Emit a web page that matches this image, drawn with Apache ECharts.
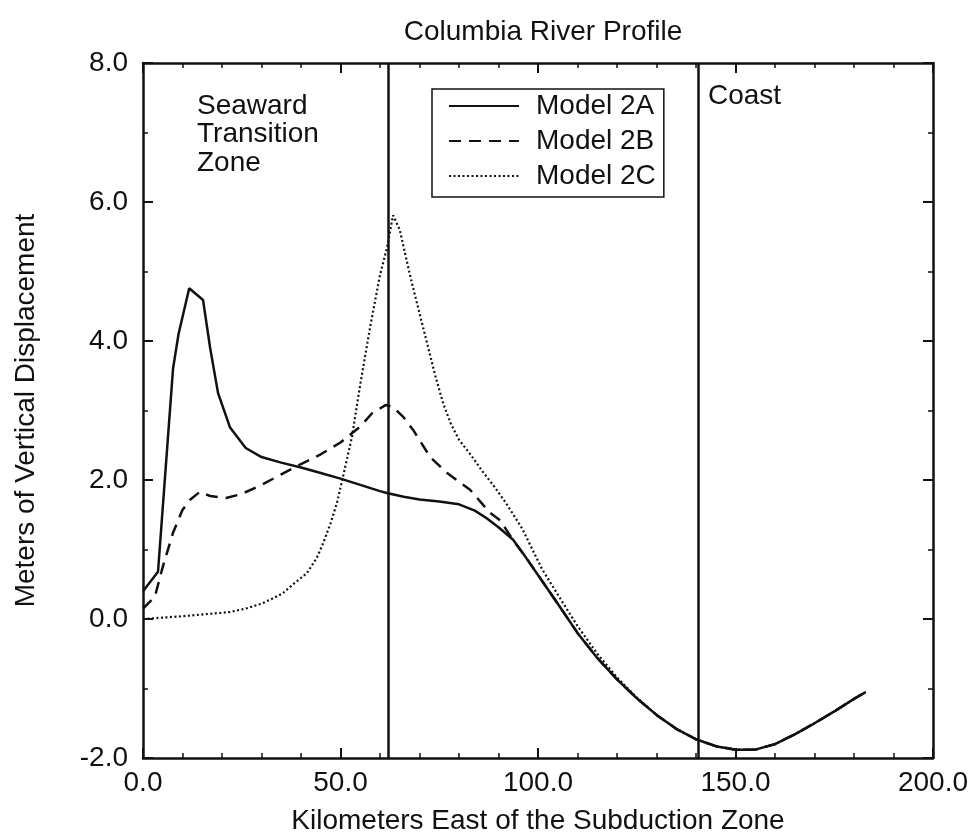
<!DOCTYPE html>
<html>
<head>
<meta charset="utf-8">
<script src="https://cdn.jsdelivr.net/npm/echarts@6/dist/echarts.min.js"></script>
<style>
  html, body { margin: 0; padding: 0; background: #fff; }
  #chart { width: 973px; height: 836px; }
</style>
</head>
<body>
<div id="chart"></div>
<script>
// Vertical displacement profiles (metres) along the Columbia River, km east of the subduction zone
const model2A_km = [0, 3.8, 7.6, 9, 11.7, 15.2, 17, 19, 22, 26, 30, 35, 40, 45, 50, 55, 60, 62, 66, 70, 75, 80, 84, 87, 90, 93.7, 97, 101, 105, 110, 115, 120, 125, 130, 135, 140, 145, 150, 155, 160, 165, 170, 175, 180, 183];
const model2A_m  = [0.40, 0.68, 3.6, 4.1, 4.76, 4.59, 3.9, 3.25, 2.76, 2.46, 2.33, 2.25, 2.18, 2.1, 2.02, 1.93, 1.84, 1.81, 1.76, 1.72, 1.69, 1.65, 1.56, 1.45, 1.32, 1.14, 0.88, 0.55, 0.22, -0.2, -0.56, -0.87, -1.14, -1.38, -1.58, -1.73, -1.83, -1.88, -1.88, -1.8, -1.66, -1.5, -1.33, -1.15, -1.05];

const model2B_km = [0, 3, 5, 7.6, 10, 12, 14.4, 17, 21, 25, 30, 35, 40, 45, 50, 55, 58, 61.5, 63.3, 66, 68.4, 72.7, 77, 82.8, 87.8, 90.4, 93.3, 97, 101, 105, 110, 115, 120, 125, 130, 135, 140, 145, 150, 155, 160, 165, 170, 175, 180, 183];
const model2B_m  = [0.15, 0.32, 0.75, 1.24, 1.57, 1.72, 1.83, 1.77, 1.74, 1.8, 1.93, 2.08, 2.23, 2.37, 2.54, 2.77, 2.96, 3.08, 3.05, 2.9, 2.72, 2.33, 2.1, 1.86, 1.53, 1.42, 1.17, 0.88, 0.55, 0.22, -0.2, -0.56, -0.87, -1.14, -1.38, -1.58, -1.73, -1.83, -1.88, -1.88, -1.8, -1.66, -1.5, -1.33, -1.15, -1.05];

const model2C_km = [0, 5, 10, 14, 18, 22, 26, 30, 33, 35.4, 38, 41.5, 44, 45.6, 47.5, 49.1, 50.6, 52.9, 54.9, 57.5, 60, 61.8, 63.3, 65, 66.3, 68, 70, 72, 74, 76, 78, 80, 83, 86, 89, 92, 96, 101, 106, 110, 115, 120, 125, 130, 135, 140, 145, 150, 155, 160, 165, 170, 175, 180, 183];
const model2C_m  = [0.0, 0.02, 0.04, 0.06, 0.08, 0.1, 0.15, 0.22, 0.3, 0.37, 0.5, 0.66, 0.88, 1.09, 1.38, 1.67, 2.04, 2.62, 3.34, 4.2, 4.95, 5.35, 5.81, 5.6, 5.27, 4.85, 4.4, 3.95, 3.5, 3.1, 2.8, 2.58, 2.36, 2.12, 1.9, 1.66, 1.3, 0.72, 0.26, -0.1, -0.5, -0.84, -1.13, -1.38, -1.58, -1.73, -1.83, -1.88, -1.88, -1.8, -1.66, -1.5, -1.33, -1.15, -1.05];

// Reference boundaries (km)
const transitionEdgeKm = 62;
const coastKm = 140.5;

const xTicks = { min: 0, max: 200, interval: 50 };
const yTicks = { min: -2, max: 8, interval: 2 };

const pairs = (xs, ys) => xs.map((x, i) => [x, ys[i]]);

const FONT = 'Liberation Sans';
const FS = 28;
const INK = '#111';

const chart = echarts.init(document.getElementById('chart'), null, { renderer: 'canvas' });

const axisLine = { show: true, onZero: false, lineStyle: { color: INK, width: 2.5 } };
const axisTick = { show: true, inside: true, length: 10, lineStyle: { color: INK, width: 2 } };
const minorTick = n => ({ show: true, splitNumber: n, length: 5, lineStyle: { color: INK, width: 1.5 } });

chart.setOption({
  backgroundColor: '#fff',
  animation: false,
  title: {
    text: 'Columbia River Profile',
    left: 538, top: 13, textAlign: 'center',
    textStyle: { fontFamily: FONT, fontSize: FS, fontWeight: 'normal', color: INK }
  },
  legend: {
    orient: 'vertical',
    left: 432, top: 89,
    padding: [3, 8, 7, 16],
    itemWidth: 70, itemHeight: 14, itemGap: 7,
    borderColor: INK, borderWidth: 1.5,
    backgroundColor: '#fff',
    itemStyle: { opacity: 0 },
    textStyle: { fontFamily: FONT, fontSize: FS, color: INK, lineHeight: 28, padding: [0, 0, 0, 12] },
    data: ['Model 2A', 'Model 2B', 'Model 2C']
  },
  grid: { left: 143, right: 40, top: 63, bottom: 78, outerBoundsMode: 'none', containLabel: false },
  xAxis: [
    {
      type: 'value', min: xTicks.min, max: xTicks.max, interval: xTicks.interval,
      axisLine, axisTick, minorTick: minorTick(5), splitLine: { show: false },
      name: 'Kilometers East of the Subduction Zone',
      nameLocation: 'middle', nameGap: 49,
      nameTextStyle: { fontFamily: FONT, fontSize: FS, color: INK },
      axisLabel: { fontFamily: FONT, fontSize: FS, color: INK, margin: 11, formatter: v => v.toFixed(1) }
    },
    {
      type: 'value', position: 'top', min: xTicks.min, max: xTicks.max, interval: xTicks.interval,
      axisLine, axisTick, minorTick: minorTick(5),
      axisLabel: { show: false }, splitLine: { show: false }
    }
  ],
  yAxis: [
    {
      type: 'value', min: yTicks.min, max: yTicks.max, interval: yTicks.interval,
      axisLine, axisTick, minorTick: minorTick(2), splitLine: { show: false },
      name: 'Meters of Vertical Displacement',
      nameLocation: 'middle', nameGap: 103,
      nameTextStyle: { fontFamily: FONT, fontSize: FS, color: INK },
      axisLabel: { fontFamily: FONT, fontSize: FS, color: INK, margin: 15, formatter: v => v.toFixed(1) }
    },
    {
      type: 'value', position: 'right', min: yTicks.min, max: yTicks.max, interval: yTicks.interval,
      axisLine, axisTick, minorTick: minorTick(2),
      axisLabel: { show: false }, splitLine: { show: false }
    }
  ],
  graphic: [
    {
      type: 'text', left: 197, top: 92,
      style: { text: 'Seaward\nTransition\nZone', font: FS + 'px "Liberation Sans"', fill: INK, lineHeight: 28.5 }
    },
    {
      type: 'text', left: 708, top: 82,
      style: { text: 'Coast', font: FS + 'px "Liberation Sans"', fill: INK }
    }
  ],
  series: [
    {
      name: 'Model 2A', type: 'line', symbol: 'none', z: 4,
      data: pairs(model2A_km, model2A_m),
      lineStyle: { color: INK, width: 2.5, type: 'solid' },
      itemStyle: { color: INK },
      markLine: {
        silent: true, symbol: 'none', label: { show: false },
        lineStyle: { color: INK, width: 2.5, type: 'solid' },
        data: [{ xAxis: transitionEdgeKm }, { xAxis: coastKm }]
      }
    },
    {
      name: 'Model 2B', type: 'line', symbol: 'none', z: 3,
      data: pairs(model2B_km, model2B_m),
      lineStyle: { color: INK, width: 2.5, type: [12, 8] },
      itemStyle: { color: INK }
    },
    {
      name: 'Model 2C', type: 'line', symbol: 'none', z: 3,
      data: pairs(model2C_km, model2C_m),
      lineStyle: { color: INK, width: 2.2, type: [2, 2.5] },
      itemStyle: { color: INK }
    }
  ]
});
</script>
</body>
</html>
